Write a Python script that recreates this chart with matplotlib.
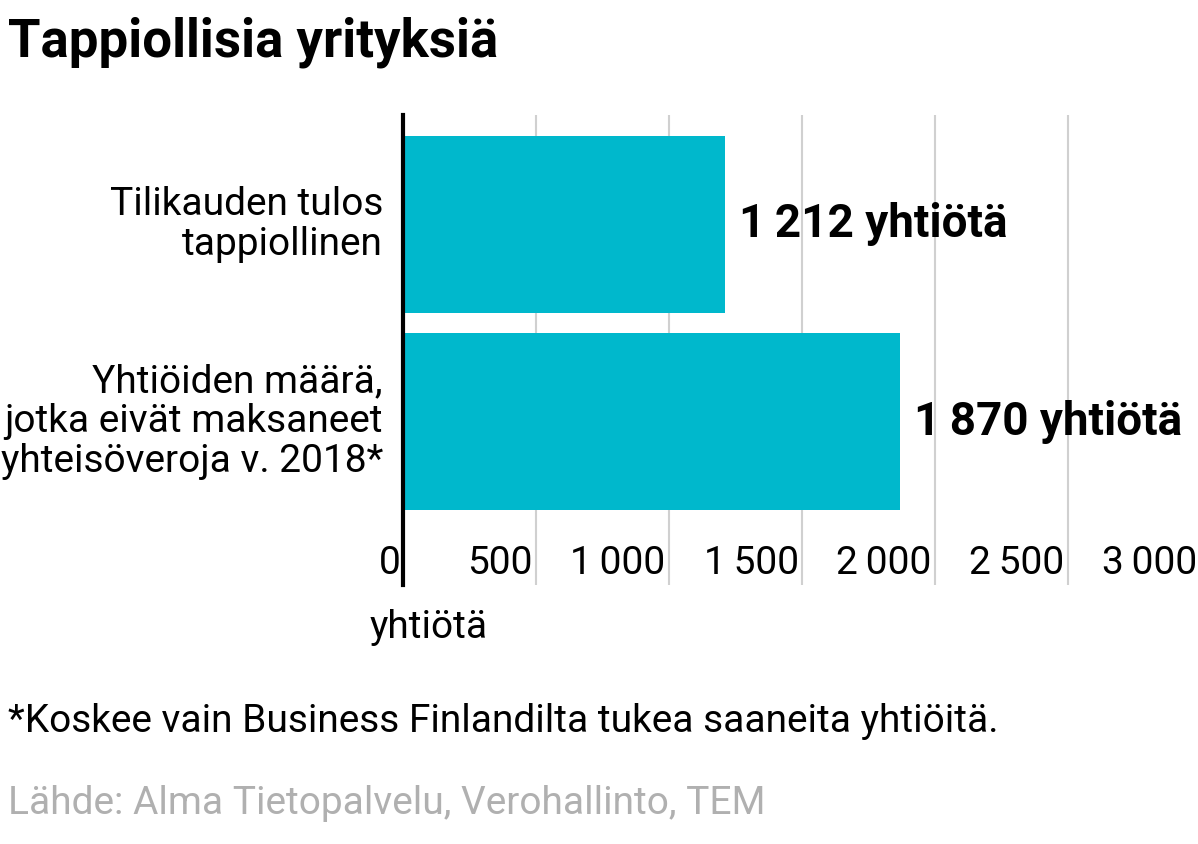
import matplotlib
matplotlib.use("Agg")
import matplotlib.pyplot as plt
import matplotlib.transforms as mt

plt.rcParams['font.family'] = ['Roboto', 'DejaVu Sans']

categories = ["Tilikauden tulos\ntappiollinen",
              "Yhtiöiden määrä,\njotka eivät maksaneet\nyhteisöveroja v. 2018*"]
values = [1212, 1870]
value_labels = ["1\u2009212 yhtiötä", "1\u2009870 yhtiötä"]
ticks = [0, 500, 1000, 1500, 2000, 2500, 3000]
tick_labels = ["0", "500", "1\u2009000", "1\u2009500", "2\u2009000", "2\u2009500", "3\u2009000"]

W, H = 1198, 844
fig = plt.figure(figsize=(W/100, H/100), dpi=100)
ax = fig.add_axes([403/W, 1-585/H, (1198-403)/W, 470/H])
ax.set_xlim(0, 2990)
ax.set_ylim(1.826, -0.554)
for t in ticks[1:]:
    ax.axvline(t, color="#d0d0d0", lw=1.5, zorder=0)
ax.barh(range(len(values)), values, height=0.896, color="#00b8cc", zorder=2)
for i, (v, lab) in enumerate(zip(values, value_labels)):
    ax.text(v + 50, i, lab, va="center", ha="left", fontsize=33, fontweight="bold")
for i, c in enumerate(categories):
    fig.text(383/W, 1-(224.5 + i*197.5)/H, c, ha="right", va="center",
             fontsize=28, linespacing=1.1)
tr = mt.blended_transform_factory(ax.transData, ax.transAxes)
for t, l in zip(ticks, tick_labels):
    ax.text(t - 12 if t else -8, 22/470, l, transform=tr, ha="right", va="center", fontsize=28)
ax.set_xticks([]); ax.set_yticks([])
for s in ["top", "right", "bottom"]:
    ax.spines[s].set_visible(False)
ax.spines["left"].set_linewidth(3)
ax.spines["left"].set_zorder(3)

fig.text(8/W, 1-42/H, "Tappiollisia yrityksiä", fontsize=38, fontweight="bold", va="center")
fig.text(370/W, 1-627/H, "yhtiötä", fontsize=28, va="center")
fig.text(8/W, 1-721/H, "*Koskee vain Business Finlandilta tukea saaneita yhtiöitä.", fontsize=28, va="center")
fig.text(8/W, 1-803/H, "Lähde: Alma Tietopalvelu, Verohallinto, TEM", fontsize=28, va="center", color="#b0b0b0")
fig.savefig("out.png", dpi=100)
